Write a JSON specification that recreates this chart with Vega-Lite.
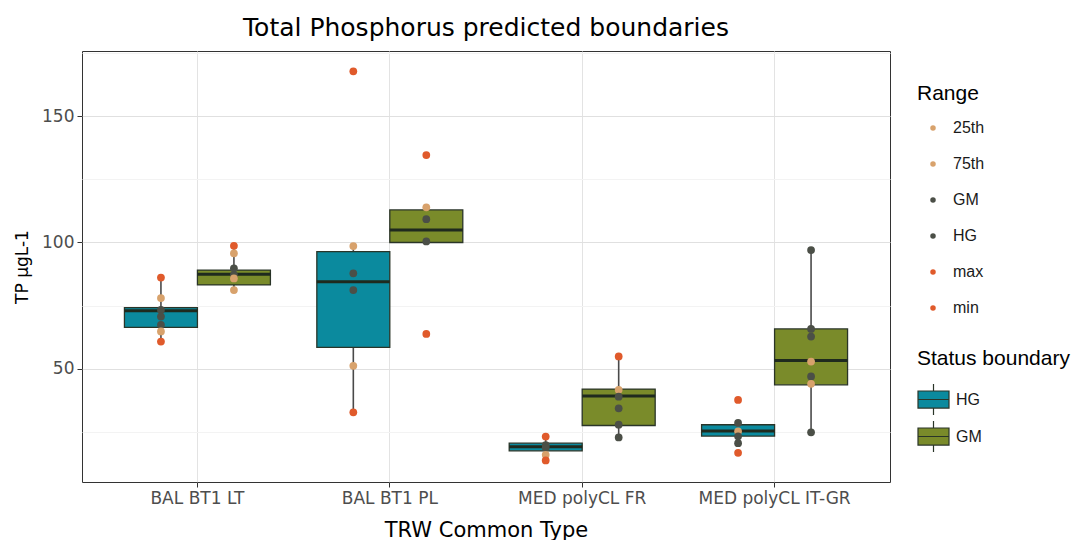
{
  "$schema": "https://vega.github.io/schema/vega-lite/v6.json",
  "autosize": "none",
  "width": 808,
  "height": 431,
  "padding": {"left": 82, "top": 51, "right": 201, "bottom": 58},
  "background": "white",
  "title": {"text": "Total Phosphorus predicted boundaries", "anchor": "middle", "frame": "group", "fontSize": 25, "fontWeight": "normal", "font": "DejaVu Sans", "color": "#000000", "offset": 10},
  "config": {
    "font": "DejaVu Sans",
    "view": {"stroke": "#333333", "strokeWidth": 1},
    "axis": {"domain": false, "labelFont": "DejaVu Sans", "titleFont": "DejaVu Sans", "labelFontSize": 17, "labelColor": "#4D4D4D", "titleFontSize": 21, "titleFontWeight": "normal", "titleColor": "#000000", "tickColor": "#333333", "tickSize": 5, "gridColor": "#E3E3E3", "gridWidth": 1},
    "legend": {"labelFont": "Liberation Sans", "titleFont": "Liberation Sans", "labelFontSize": 16, "labelColor": "#1A1A1A", "titleFontSize": 21, "titleFontWeight": "normal", "titleColor": "#000000", "padding": 0}
  },
  "datasets": {
    "boxes": [
      {"type": "BAL BT1 LT", "status": "HG", "lo": 60.8, "q1": 66.4, "med": 73.0, "q3": 74.2, "hi": 86.1},
      {"type": "BAL BT1 LT", "status": "GM", "lo": 81.2, "q1": 83.2, "med": 87.4, "q3": 89.1, "hi": 98.7},
      {"type": "BAL BT1 PL", "status": "HG", "lo": 32.8, "q1": 58.5, "med": 84.5, "q3": 96.4, "hi": 98.6},
      {"type": "BAL BT1 PL", "status": "GM", "lo": 100.0, "q1": 100.0, "med": 104.9, "q3": 112.9, "hi": 113.9},
      {"type": "MED polyCL FR", "status": "HG", "lo": 13.8, "q1": 17.6, "med": 19.2, "q3": 20.6, "hi": 23.2},
      {"type": "MED polyCL FR", "status": "GM", "lo": 22.9, "q1": 27.6, "med": 39.3, "q3": 42.0, "hi": 54.9},
      {"type": "MED polyCL IT-GR", "status": "HG", "lo": 20.6, "q1": 23.4, "med": 25.4, "q3": 27.9, "hi": 28.3},
      {"type": "MED polyCL IT-GR", "status": "GM", "lo": 24.9, "q1": 43.7, "med": 53.3, "q3": 65.8, "hi": 97.0}
    ],
    "points": [
      {"type": "BAL BT1 LT", "status": "HG", "range": "max", "value": 86.1},
      {"type": "BAL BT1 LT", "status": "HG", "range": "75th", "value": 78.0},
      {"type": "BAL BT1 LT", "status": "HG", "range": "HG", "value": 73.3},
      {"type": "BAL BT1 LT", "status": "HG", "range": "GM", "value": 70.7},
      {"type": "BAL BT1 LT", "status": "HG", "range": "HG", "value": 67.4},
      {"type": "BAL BT1 LT", "status": "HG", "range": "25th", "value": 64.8},
      {"type": "BAL BT1 LT", "status": "HG", "range": "min", "value": 60.8},
      {"type": "BAL BT1 LT", "status": "GM", "range": "max", "value": 98.7},
      {"type": "BAL BT1 LT", "status": "GM", "range": "75th", "value": 95.7},
      {"type": "BAL BT1 LT", "status": "GM", "range": "GM", "value": 89.8},
      {"type": "BAL BT1 LT", "status": "GM", "range": "HG", "value": 87.2},
      {"type": "BAL BT1 LT", "status": "GM", "range": "25th", "value": 85.8},
      {"type": "BAL BT1 LT", "status": "GM", "range": "25th", "value": 81.2},
      {"type": "BAL BT1 PL", "status": "HG", "range": "max", "value": 167.7},
      {"type": "BAL BT1 PL", "status": "HG", "range": "75th", "value": 98.6},
      {"type": "BAL BT1 PL", "status": "HG", "range": "GM", "value": 87.8},
      {"type": "BAL BT1 PL", "status": "HG", "range": "HG", "value": 81.2},
      {"type": "BAL BT1 PL", "status": "HG", "range": "25th", "value": 51.2},
      {"type": "BAL BT1 PL", "status": "HG", "range": "min", "value": 32.8},
      {"type": "BAL BT1 PL", "status": "GM", "range": "max", "value": 134.6},
      {"type": "BAL BT1 PL", "status": "GM", "range": "75th", "value": 113.9},
      {"type": "BAL BT1 PL", "status": "GM", "range": "GM", "value": 109.2},
      {"type": "BAL BT1 PL", "status": "GM", "range": "HG", "value": 100.4},
      {"type": "BAL BT1 PL", "status": "GM", "range": "min", "value": 63.8},
      {"type": "MED polyCL FR", "status": "HG", "range": "max", "value": 23.2},
      {"type": "MED polyCL FR", "status": "HG", "range": "GM", "value": 19.8},
      {"type": "MED polyCL FR", "status": "HG", "range": "HG", "value": 18.8},
      {"type": "MED polyCL FR", "status": "HG", "range": "25th", "value": 16.0},
      {"type": "MED polyCL FR", "status": "HG", "range": "min", "value": 13.8},
      {"type": "MED polyCL FR", "status": "GM", "range": "max", "value": 54.9},
      {"type": "MED polyCL FR", "status": "GM", "range": "75th", "value": 41.7},
      {"type": "MED polyCL FR", "status": "GM", "range": "GM", "value": 39.0},
      {"type": "MED polyCL FR", "status": "GM", "range": "HG", "value": 34.4},
      {"type": "MED polyCL FR", "status": "GM", "range": "GM", "value": 27.9},
      {"type": "MED polyCL FR", "status": "GM", "range": "HG", "value": 22.9},
      {"type": "MED polyCL IT-GR", "status": "HG", "range": "max", "value": 37.7},
      {"type": "MED polyCL IT-GR", "status": "HG", "range": "GM", "value": 28.6},
      {"type": "MED polyCL IT-GR", "status": "HG", "range": "75th", "value": 25.3},
      {"type": "MED polyCL IT-GR", "status": "HG", "range": "HG", "value": 23.3},
      {"type": "MED polyCL IT-GR", "status": "HG", "range": "HG", "value": 20.6},
      {"type": "MED polyCL IT-GR", "status": "HG", "range": "min", "value": 16.8},
      {"type": "MED polyCL IT-GR", "status": "GM", "range": "GM", "value": 97.0},
      {"type": "MED polyCL IT-GR", "status": "GM", "range": "HG", "value": 65.8},
      {"type": "MED polyCL IT-GR", "status": "GM", "range": "GM", "value": 62.8},
      {"type": "MED polyCL IT-GR", "status": "GM", "range": "75th", "value": 52.9},
      {"type": "MED polyCL IT-GR", "status": "GM", "range": "HG", "value": 47.0},
      {"type": "MED polyCL IT-GR", "status": "GM", "range": "25th", "value": 44.1},
      {"type": "MED polyCL IT-GR", "status": "GM", "range": "HG", "value": 24.9}
    ]
  },
  "encoding": {
    "x": {"field": "type", "type": "nominal", "sort": null,
      "scale": {"domain": ["BAL BT1 LT", "BAL BT1 PL", "MED polyCL FR", "MED polyCL IT-GR"], "paddingInner": 0, "paddingOuter": 0.1},
      "axis": {"title": "TRW Common Type", "labelAngle": 0, "bandPosition": 0.5, "grid": true, "labelPadding": 3, "titlePadding": 13}},
    "xOffset": {"field": "status", "type": "nominal", "scale": {"domain": ["HG", "GM"], "paddingInner": 0, "paddingOuter": 0.318}}
  },
  "layer": [
    {
      "data": {"name": "boxes"},
      "mark": {"type": "rule", "color": "#4A4A4A", "strokeWidth": 1.6},
      "encoding": {
        "y": {"field": "lo", "type": "quantitative",
          "scale": {"domain": [5.25, 175.75], "nice": false, "zero": false},
          "axis": {"title": "TP µgL-1", "titleFontSize": 17, "values": [25, 50, 75, 100, 125, 150, 175],
            "labelExpr": "datum.value % 50 === 0 ? datum.label : ''",
            "gridColor": {"condition": {"test": "datum.value % 50 === 0", "value": "#E0E0E0"}, "value": "#F3F3F3"},
            "tickColor": {"condition": {"test": "datum.value % 50 === 0", "value": "#333333"}, "value": "transparent"},
            "labelPadding": 3, "titlePadding": 10}},
        "y2": {"field": "hi"}
      }
    },
    {
      "data": {"name": "boxes"},
      "mark": {"type": "bar", "stroke": "#2A3528", "strokeWidth": 1.3, "opacity": 1},
      "encoding": {
        "y": {"field": "q1", "type": "quantitative"},
        "y2": {"field": "q3"},
        "fill": {"field": "status", "type": "nominal", "title": "Status boundary",
          "scale": {"domain": ["HG", "GM"], "range": ["#0B8A9E", "#7A8B2A"]},
          "legend": {"orient": "none", "legendX": 835, "legendY": 297, "symbolType": "M-1,-0.55H1V0.55H-1Z M-1,0H1 M0,-0.55V-1 M0,0.55V1", "symbolSize": 961, "symbolStrokeColor": "#2A3528", "symbolStrokeWidth": 1.2, "rowPadding": 0, "labelOffset": 6, "titlePadding": 14}}
      }
    },
    {
      "data": {"name": "boxes"},
      "mark": {"type": "tick", "color": "#1F2A1E", "thickness": 3, "size": 73, "opacity": 1},
      "encoding": {
        "y": {"field": "med", "type": "quantitative"}
      }
    },
    {
      "data": {"name": "points"},
      "mark": {"type": "point", "filled": true, "size": 60, "opacity": 1},
      "encoding": {
        "y": {"field": "value", "type": "quantitative"},
        "color": {"field": "range", "type": "nominal", "title": "Range",
          "scale": {"domain": ["25th", "75th", "GM", "HG", "max", "min"], "range": ["#D8A26C", "#D8A26C", "#4B4F47", "#4B4F47", "#E05A2B", "#E05A2B"]},
          "legend": {"orient": "none", "legendX": 835, "legendY": 32, "symbolType": "circle", "symbolSize": 30, "symbolOffset": 8, "labelOffset": 12, "rowPadding": 20, "titlePadding": 16}}
      }
    }
  ]
}
